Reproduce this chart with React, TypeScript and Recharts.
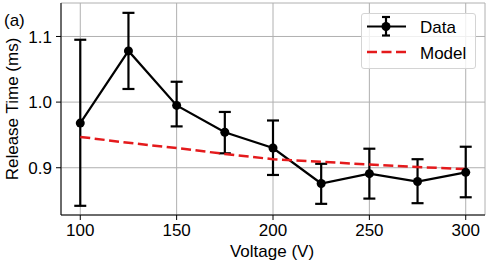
import React from 'react'
import {
  ComposedChart,
  Line,
  ErrorBar,
  XAxis,
  YAxis,
  CartesianGrid,
  Legend,
} from 'recharts'

const voltages = [100, 125, 150, 175, 200, 225, 250, 275, 300]
const releaseTime = [0.968, 1.078, 0.995, 0.954, 0.930, 0.876, 0.891, 0.879, 0.893]
const errUpper = [1.095, 1.136, 1.031, 0.985, 0.972, 0.906, 0.929, 0.913, 0.932]
const errLower = [0.842, 1.020, 0.963, 0.922, 0.889, 0.845, 0.853, 0.846, 0.855]
const modelTime = [0.947, 0.938, 0.930, 0.921, 0.913, 0.909, 0.905, 0.901, 0.898]

const xTicks = [100, 150, 200, 250, 300]
const yTicks = [0.9, 1.0, 1.1]

const FONT = '"Liberation Sans", Arial, sans-serif'
const RED = '#e41a1c'

const data = voltages.map((v, i) => ({
  voltage: v,
  release: releaseTime[i],
  err: [releaseTime[i] - errLower[i], errUpper[i] - releaseTime[i]],
  model: modelTime[i],
}))

const LegendBox = () => (
  <div
    style={{
      width: 115,
      height: 56,
      boxSizing: 'border-box',
      border: '1px solid #d4d4d4',
      borderRadius: 3,
      background: 'rgba(255,255,255,0.8)',
    }}
  >
    <svg width={113} height={54} style={{ display: 'block' }}>
      <g transform="translate(-1,-1)">
        <line x1={6} y1={13.5} x2={45} y2={13.5} stroke="#000" strokeWidth={2.2} />
        <line x1={25} y1={4} x2={25} y2={22.5} stroke="#000" strokeWidth={2.2} />
        <line x1={21} y1={4} x2={29} y2={4} stroke="#000" strokeWidth={2.2} />
        <line x1={21} y1={22.5} x2={29} y2={22.5} stroke="#000" strokeWidth={2.2} />
        <circle cx={25} cy={13.5} r={4.5} fill="#000" />
        <text x={59} y={19.5} fontSize={17} fontFamily={FONT} fill="#000">Data</text>
        <line x1={6} y1={39} x2={45} y2={39} stroke={RED} strokeWidth={2.5} strokeDasharray="10 4.5" />
        <text x={59} y={46} fontSize={17} fontFamily={FONT} fill="#000">Model</text>
      </g>
    </svg>
  </div>
)

export default function App() {
  return (
    <div style={{ position: 'absolute', left: 0, top: 0, width: 488, height: 265, background: '#fff', fontFamily: FONT }}>
      <ComposedChart
        width={488}
        height={265}
        data={data}
        margin={{ top: 3, right: 3, bottom: 0, left: 21 }}
      >
        <CartesianGrid stroke="#b0b0b0" strokeWidth={1} />
        <XAxis
          dataKey="voltage"
          type="number"
          domain={[90, 310]}
          ticks={xTicks}
          allowDataOverflow
          height={50}
          tickSize={5}
          tickMargin={4}
          stroke="#000"
          tick={{ fill: '#000', fontSize: 17, fontFamily: FONT }}
        />
        <XAxis xAxisId="top" orientation="top" type="number" domain={[90, 310]} height={0} tick={false} tickLine={false} stroke="#000" />
        <YAxis
          type="number"
          domain={[0.828, 1.151]}
          ticks={yTicks}
          allowDataOverflow
          width={40}
          tickSize={5}
          tickMargin={4}
          tickFormatter={(v: number) => v.toFixed(1)}
          stroke="#000"
          tick={{ fill: '#000', fontSize: 17, fontFamily: FONT }}
        />
        <YAxis yAxisId="right" orientation="right" type="number" domain={[0.828, 1.151]} width={0} tick={false} tickLine={false} stroke="#000" />
        <Line
          dataKey="release"
          stroke="#000"
          strokeWidth={2.2}
          dot={{ r: 4.5, fill: '#000', stroke: '#000', strokeWidth: 0 }}
          activeDot={false}
          isAnimationActive={false}
        >
          <ErrorBar dataKey="err" direction="y" width={6} stroke="#000" strokeWidth={2.2} />
        </Line>
        <Line
          dataKey="model"
          stroke={RED}
          strokeWidth={2.5}
          strokeDasharray="10 4.5"
          dot={false}
          activeDot={false}
          isAnimationActive={false}
        />
        <Legend
          layout="vertical"
          align="center"
          verticalAlign="middle"
          content={() => <LegendBox />}
          wrapperStyle={{ position: 'absolute', left: 361, top: 13, width: 115, height: 56 }}
        />
        <text x={4} y={26} fontSize={17} fontFamily={FONT} fill="#000">(a)</text>
        <text x={272} y={257} fontSize={17} fontFamily={FONT} fill="#000" textAnchor="middle">Voltage (V)</text>
        <text transform="translate(18,109) rotate(-90)" x={0} y={0} fontSize={17} fontFamily={FONT} fill="#000" textAnchor="middle">Release Time (ms)</text>
      </ComposedChart>
    </div>
  )
}
